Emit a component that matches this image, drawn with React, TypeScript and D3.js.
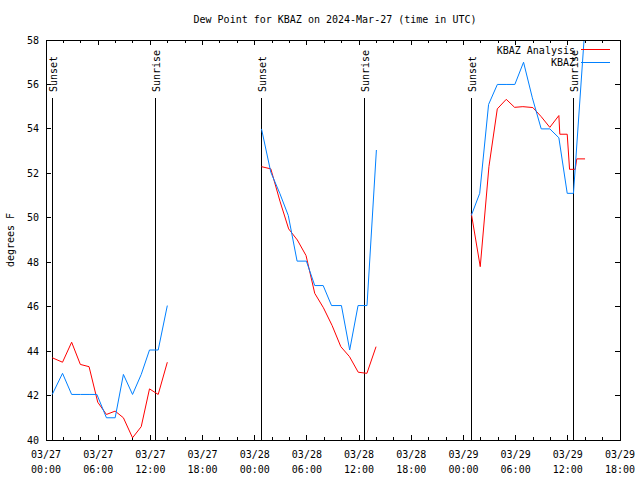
import React from "react";
import * as d3 from "d3";

const TITLE = "Dew Point for KBAZ on 2024-Mar-27 (time in UTC)";
const Y_LABEL = "degrees F";

// hours since 2024-03-27 00:00 UTC
const xTickHours = [0, 6, 12, 18, 24, 30, 36, 42, 48, 54, 60, 66];
const xTickDates = ["03/27", "03/27", "03/27", "03/27", "03/28", "03/28", "03/28", "03/28", "03/29", "03/29", "03/29", "03/29"];
const xTickTimes = ["00:00", "06:00", "12:00", "18:00", "00:00", "06:00", "12:00", "18:00", "00:00", "06:00", "12:00", "18:00"];
const xMinorHours = d3.range(0, 67, 2);
const yTicks = [40, 42, 44, 46, 48, 50, 52, 54, 56, 58];

const sunHours = [0.72, 12.6, 24.78, 36.57, 48.9, 60.65];
const sunLabels = ["Sunset", "Sunrise", "Sunset", "Sunrise", "Sunset", "Sunrise"];

const analysisHours = [
  0.72, 1.9, 2.95, 3.95, 4.95, 5.95, 6.95, 7.95, 8.9, 9.95, 10.95, 11.9, 12.9, 13.95,
  24.78, 25.85, 26.9, 27.9, 28.9, 29.9, 30.9, 31.9, 32.9, 33.9, 34.9, 35.9, 36.9, 37.95,
  48.9, 49.93, 50.93, 51.89, 52.92, 53.88, 54.83, 55.98, 56.94, 57.93, 58.97, 59.08, 59.93, 60.2, 60.85, 61.03, 61.98,
];
const analysisValues = [
  43.7, 43.5, 44.4, 43.4, 43.3, 41.7, 41.15, 41.3, 41.0, 40.1, 40.6, 42.3, 42.05, 43.5,
  52.3, 52.2, 50.75, 49.5, 49.0, 48.3, 46.6, 45.95, 45.15, 44.2, 43.75, 43.05, 43.0, 44.2,
  50.2, 47.8, 52.3, 54.9, 55.33, 54.97, 55.0, 54.96, 54.55, 54.07, 54.6, 53.76, 53.76, 52.18, 52.18, 52.65, 52.65,
];

const obsHours = [
  0.72, 1.9, 2.95, 3.95, 4.95, 5.85, 6.95, 7.95, 8.9, 9.95, 10.95, 11.9, 12.9, 13.95,
  24.78, 25.85, 26.88, 27.86, 28.87, 29.94, 30.9, 31.87, 32.83, 33.97, 34.92, 35.88, 36.91, 37.99,
  48.9, 49.87, 50.89, 51.9, 52.9, 53.91, 54.91, 55.92, 56.94, 57.93, 58.97, 59.93, 60.65, 61.97,
];
const obsValues = [
  42.05, 43.0, 42.05, 42.05, 42.05, 42.05, 41.0, 41.0, 42.95, 42.05, 42.95, 44.05, 44.05, 46.05,
  54.0, 52.05, 51.1, 50.1, 48.05, 48.05, 46.95, 46.95, 46.05, 46.05, 44.05, 46.05, 46.05, 53.05,
  50.1, 51.1, 55.1, 56.0, 56.0, 56.0, 57.0, 55.4, 54.0, 54.0, 53.6, 51.1, 51.1, 58.6,
];

const seriesNames = ["KBAZ Analysis", "KBAZ"];
const seriesColors = ["#ff0000", "#0080ff"];

const W = 640;
const H = 480;
const L = 46;
const R = 620;
const T = 40;
const B = 440;
const FONT = "'DejaVu Sans Mono', monospace";

function segments(hours: number[], values: number[]) {
  const segs: [number, number][][] = [];
  let cur: [number, number][] = [];
  hours.forEach((h, i) => {
    if (cur.length && h - cur[cur.length - 1][0] > 5) {
      segs.push(cur);
      cur = [];
    }
    cur.push([h, values[i]]);
  });
  if (cur.length) segs.push(cur);
  return segs;
}

export default function App() {
  const x = d3.scaleLinear().domain([0, 66]).range([L, R]);
  const y = d3.scaleLinear().domain([40, 58]).range([B, T]);
  const line = d3
    .line<[number, number]>()
    .x((d) => x(d[0]))
    .y((d) => y(d[1]));

  const series = [
    segments(analysisHours, analysisValues),
    segments(obsHours, obsValues),
  ];

  return (
    <svg
      width={W}
      height={H}
      style={{ position: "absolute", left: 0, top: 0, background: "#fff" }}
      fontFamily={FONT}
      fontSize={10}
    >
      <defs>
        <clipPath id="plot">
          <rect x={L} y={T} width={R - L} height={B - T} />
        </clipPath>
      </defs>
      <rect x={0} y={0} width={W} height={H} fill="#fff" />
      <text x={335} y={23} textAnchor="middle" fill="#000">
        {TITLE}
      </text>
      <text
        transform={`translate(14,${(T + B) / 2}) rotate(-90)`}
        textAnchor="middle"
        fill="#000"
      >
        {Y_LABEL}
      </text>

      {/* y ticks */}
      {yTicks.map((v) => (
        <g key={"y" + v} shapeRendering="crispEdges">
          <line x1={L} x2={L + 5} y1={y(v)} y2={y(v)} stroke="#000" />
          <line x1={R - 5} x2={R} y1={y(v)} y2={y(v)} stroke="#000" />
          <text x={39} y={y(v) + 3.5} textAnchor="end" fill="#000">
            {v}
          </text>
        </g>
      ))}

      {/* x minor ticks */}
      {xMinorHours.map((h) => (
        <g key={"m" + h} shapeRendering="crispEdges">
          <line x1={x(h)} x2={x(h)} y1={B} y2={B - 3} stroke="#000" />
          <line x1={x(h)} x2={x(h)} y1={T} y2={T + 3} stroke="#000" />
        </g>
      ))}
      {/* x major ticks */}
      {xTickHours.map((h, i) => (
        <g key={"x" + h}>
          <line x1={x(h)} x2={x(h)} y1={B} y2={B - 5} stroke="#000" shapeRendering="crispEdges" />
          <line x1={x(h)} x2={x(h)} y1={T} y2={T + 5} stroke="#000" shapeRendering="crispEdges" />
          <text x={x(h)} y={458} textAnchor="middle" fill="#000">
            {xTickDates[i]}
          </text>
          <text x={x(h)} y={473} textAnchor="middle" fill="#000">
            {xTickTimes[i]}
          </text>
        </g>
      ))}

      {/* sunrise / sunset */}
      {sunHours.map((h, i) => (
        <g key={"s" + i}>
          <line
            x1={x(h)}
            x2={x(h)}
            y1={98}
            y2={B}
            stroke="#000"
            shapeRendering="crispEdges"
          />
          <text
            transform={`translate(${x(h) + 4.5},92) rotate(-90)`}
            textAnchor="start"
            fill="#000"
          >
            {sunLabels[i]}
          </text>
        </g>
      ))}

      {/* data */}
      <g clipPath="url(#plot)">
        {series.map((segs, si) =>
          segs.map((seg, k) => (
            <path
              key={si + "-" + k}
              d={line(seg) || ""}
              fill="none"
              stroke={seriesColors[si]}
              strokeWidth={1}
            />
          ))
        )}
      </g>

      {/* border */}
      <rect
        x={L}
        y={T}
        width={R - L}
        height={B - T}
        fill="none"
        stroke="#000"
        shapeRendering="crispEdges"
      />

      {/* legend */}
      {seriesNames.map((name, i) => (
        <g key={name}>
          <text x={575} y={53.5 + i * 12.5} textAnchor="end" fill="#000">
            {name}
          </text>
          <line
            x1={581}
            x2={610}
            y1={49.5 + i * 12.5}
            y2={49.5 + i * 12.5}
            stroke={seriesColors[i]}
            shapeRendering="crispEdges"
          />
        </g>
      ))}
    </svg>
  );
}
